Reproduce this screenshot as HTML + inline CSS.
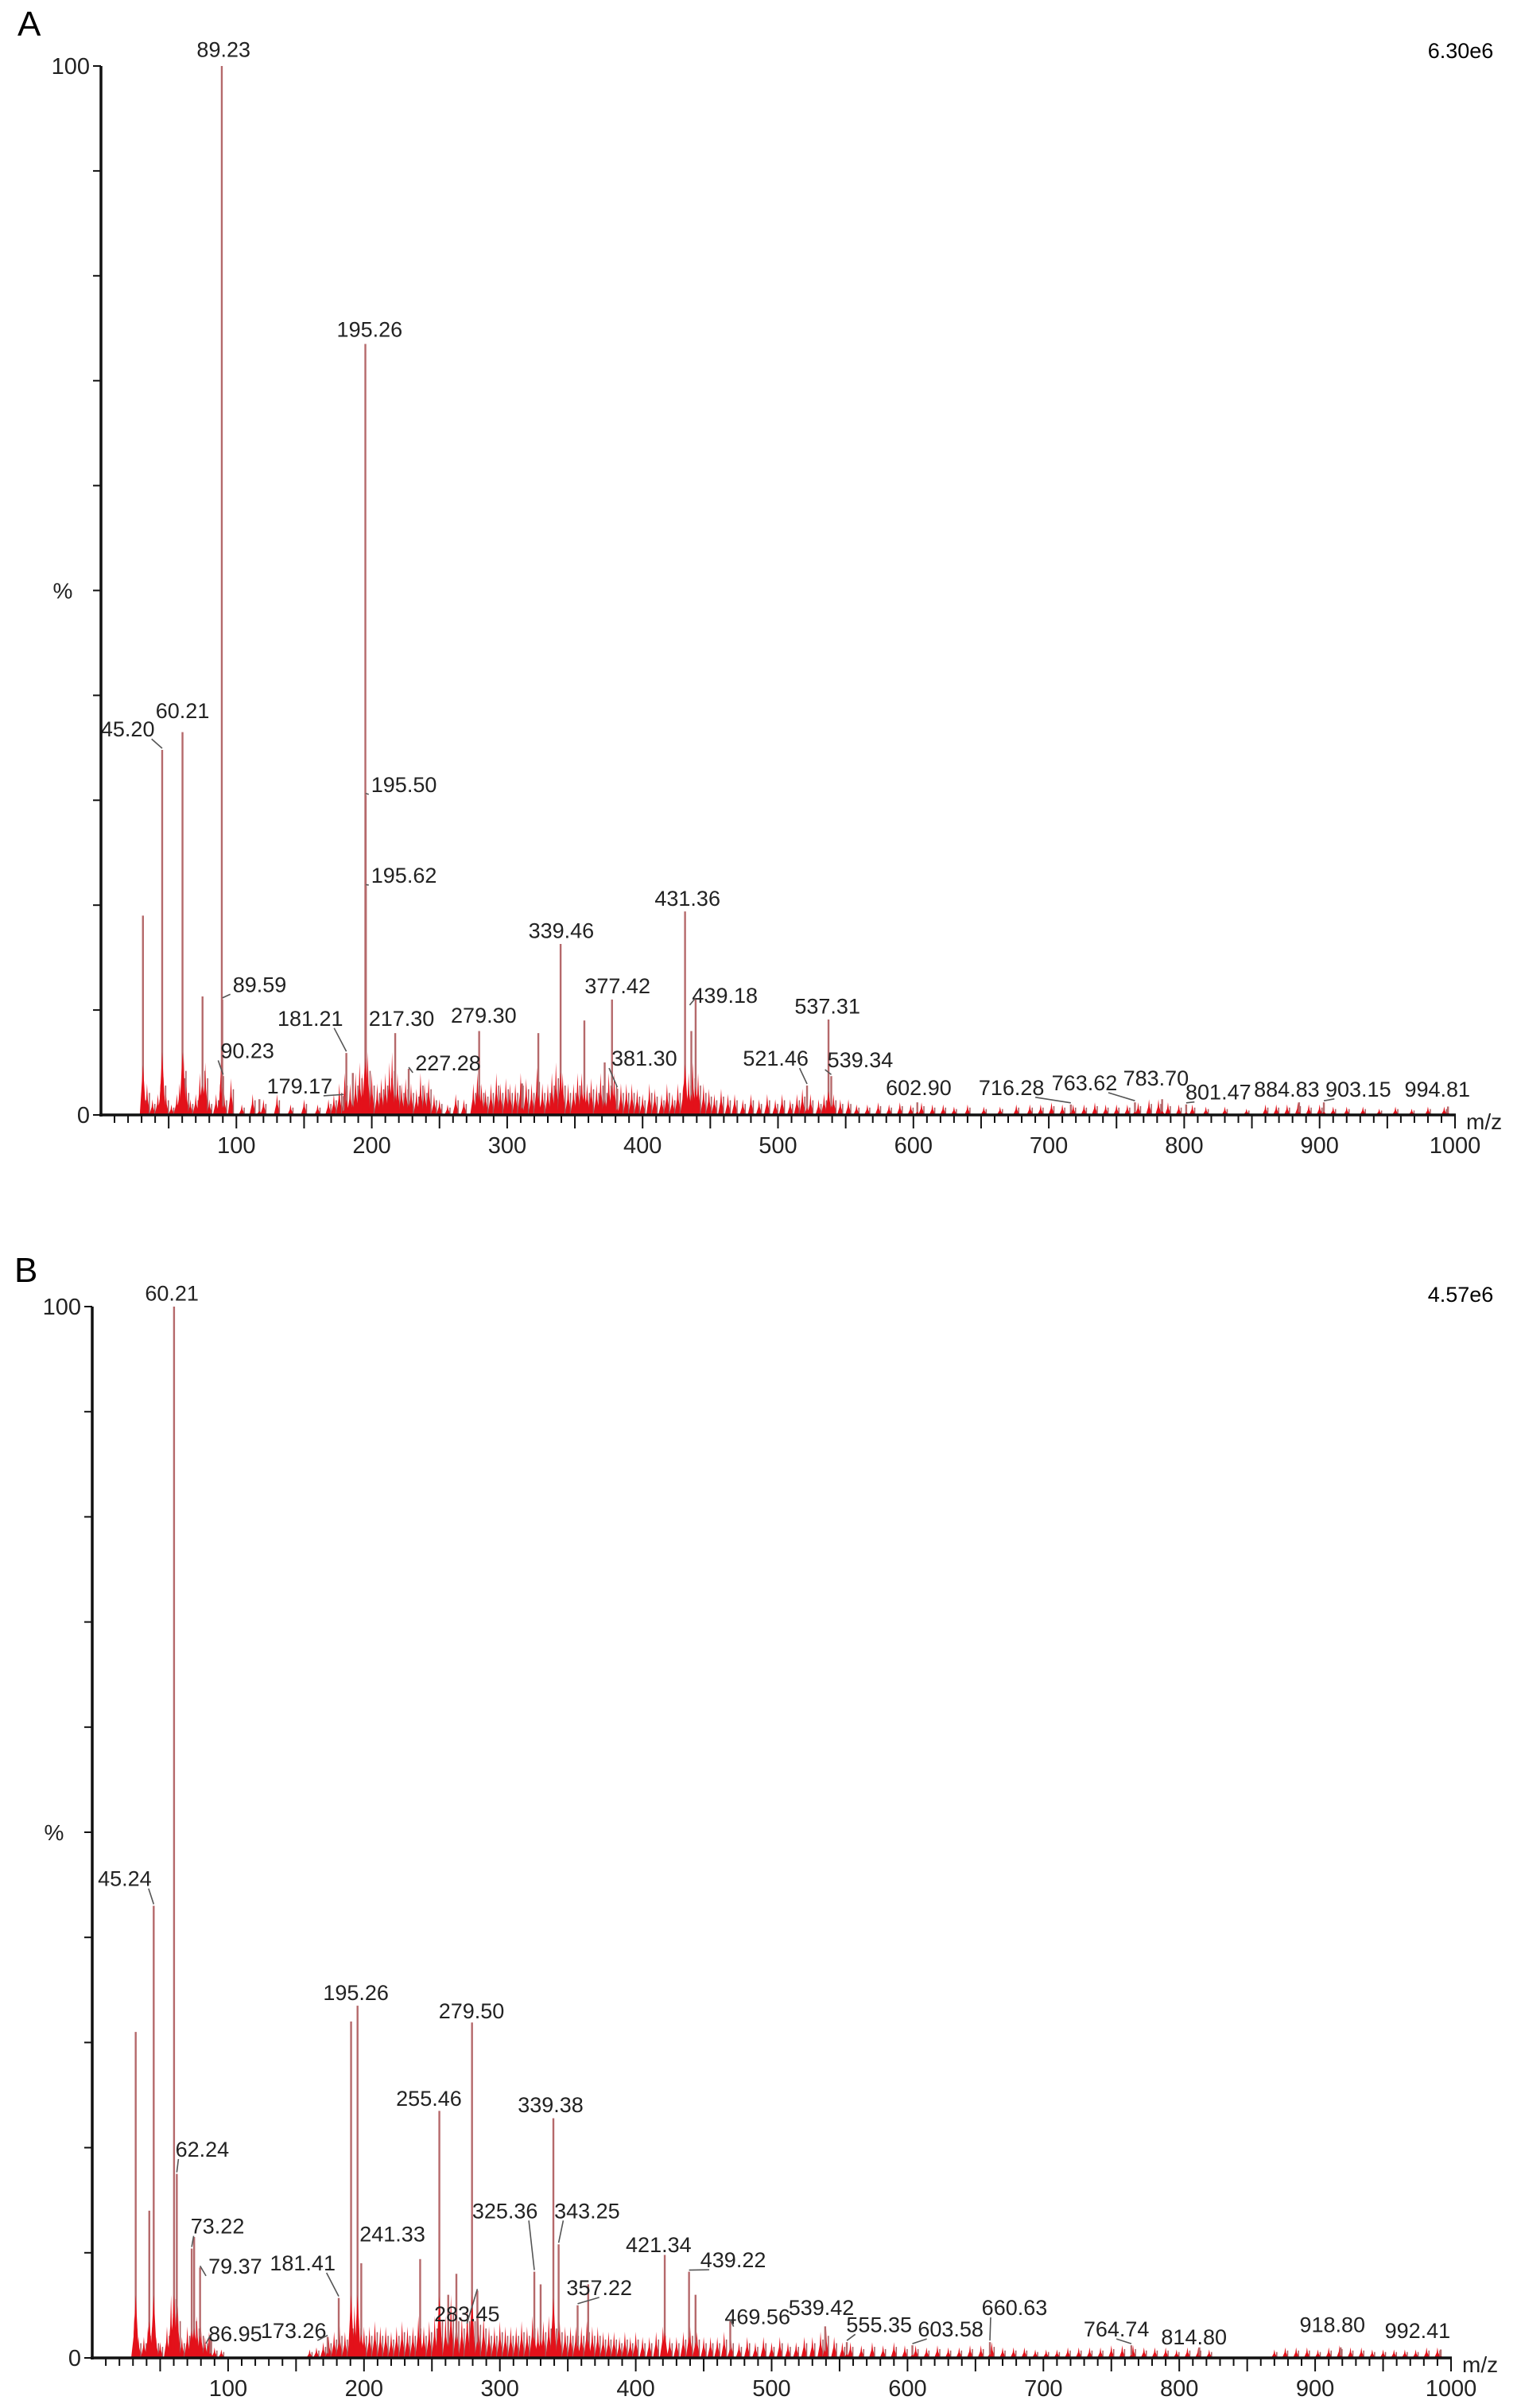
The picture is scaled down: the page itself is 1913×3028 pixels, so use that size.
<!DOCTYPE html>
<html><head><meta charset="utf-8"><style>
html,body{margin:0;padding:0;background:#fff;}
svg{display:block;font-family:"Liberation Sans",Arial,sans-serif;}
</style></head><body>
<svg id="fig" width="1913" height="3028" viewBox="0 0 1913 3028" xmlns="http://www.w3.org/2000/svg">
<text x="22" y="45" font-size="44">A</text>
<text x="18" y="1612" font-size="44">B</text>
<text x="1837" y="73" font-size="27" text-anchor="middle">6.30e6</text>
<text x="1837" y="1637" font-size="27" text-anchor="middle">4.57e6</text>
</svg>
<script>
// ---- Panel A data ----
const peaksA_mz  = [31,45.20,60.21,75,89.23,89.59,90.23,117,179.17,181.21,186,195.26,195.50,195.62,217.30,227.28,279.30,311,323,339.46,357,372,377.42,381.30,431.36,436,439.18,521.46,537.31,539.34,602.90,716.28,763.62,783.70,801.47,884.83,903.15,994.81];
const peaksA_int = [19,34.8,36.5,11.3,100,11,3.7,1.5,1.8,5.9,4,73.5,30.5,21.8,7.8,4.4,8,3,7.8,16.3,9,5,11,2.5,19.4,8,11,2.8,9.1,3.7,1.2,1,1.2,1.5,1,1.2,1.2,0.8];
const noiseA = "31:2,34:3,38:1.5,42:2,44:3,46:4,48:2,52:1,56:2,58:3,60:5,61:6,63:3,66:1.5,70:2,73:4,75:6,77:5,80:1.5,85:2,88:3,91:2,96:3.5,104:1,112:2,120:1.5,130:2,140:1,150:1.5,160:1,168:1.5,172:2,176:3,180:4,184:3,188:4,191:5,193:4,197:6,200:4,204:3,207:3.5,210:4,213:5,215:6,219:4,222:3,225:3.5,229:3,233:2.5,236:4,239:3,242:3.5,246:2,250:1.5,256:1,262:2,268:1.5,275:3,278:4,281:3,284:2.5,288:3,292:4,295:3,299:3.5,302:3,306:3,310:4,314:3.5,318:3,322:4.5,326:3,330:3,333:4,336:5,341:4,345:3,349:3,352:4,355:4,359:3,362:3.5,366:3,369:4,372:3,375:4,379:4,384:3,388:3,392:3,396:2.5,400:2,405:3,409:2.5,414:2,418:3,422:2,426:3,430:3,434:4,437:5,441:4,445:3,449:2.5,453:2,458:2.5,463:2,468:2,474:1.5,480:2,486:1.5,492:2,498:1.5,503:2,509:1.5,514:2,518:2.5,524:2,530:1.5,534:2,541:2,546:1.5,552:1.5,558:1,566:1,574:1.2,582:1,590:1.2,598:1,606:1.2,614:1,622:1,630:0.8,640:1,652:0.8,664:0.8,676:1,686:1,694:1,702:1.2,710:1,718:1,726:1,734:1.2,742:1,750:1,758:1,766:1.2,774:1.5,781:1.5,788:1.2,796:1,806:1,816:0.8,830:0.8,846:0.6,860:1,868:1,876:1,884:1.2,892:1,900:1,910:0.8,920:0.8,932:0.8,944:0.6,956:0.8,968:0.6,980:0.8,992:0.8";
const labelsA_text = ["89.23","195.26","45.20","60.21","195.50","195.62","89.59","90.23","181.21","179.17","217.30","227.28","279.30","339.46","377.42","381.30","431.36","439.18","521.46","537.31","539.34","602.90","716.28","763.62","783.70","801.47","884.83","903.15","994.81"];
// label layout (preview units): x, baseline y, anchor, leader
const labelsA_layout = [[147,37,"middle",0],[243,219,"middle",0],[84,479,"middle",1],[120,467,"middle",0],[244,515,"start",1],[244,574,"start",1],[153,645,"start",1],[145,688,"start",1],[204,667,"middle",1],[197,711,"middle",1],[264,667,"middle",0],[273,696,"start",1],[318,665,"middle",0],[369,610,"middle",0],[406,646,"middle",0],[402,693,"start",1],[452,589,"middle",0],[455,652,"start",1],[510,693,"middle",1],[544,659,"middle",0],[544,694,"start",1],[604,712,"middle",0],[665,712,"middle",1],[713,709,"middle",1],[760,706,"middle",0],[801,715,"middle",1],[846,713,"middle",0],[893,713,"middle",1],[945,713,"middle",0]];

// ---- Panel B data ----
const peaksB_mz  = [32,42,45.24,60.21,62.24,73.22,75,79.37,86.95,173.26,181.41,190.5,195.26,198,241.33,255.46,262,268,279.50,283.45,325.36,330,339.38,343.25,357.22,365,421.34,439.22,444,469.56,539.42,555.35,603.58,660.63,764.74,814.80,918.80,992.41];
const peaksB_int = [31,14,43,100,17.5,10.4,11.5,8.6,2,2,5.7,32,33.5,9,9.4,23.5,6,8,31.9,6.4,8.2,7,22.8,10.8,5,7,9.8,8.2,6,3.5,3,1.5,1.2,1.5,1.2,1,1,0.8];
const noiseB = "31:4,34:2,38:2,41:3,44:3,47:2,50:1.5,55:3,58:6,60:8,63:5,66:2,70:3,73:4,75:5,77:4,80:3,83:2,86:2.5,90:1,95:0.8,160:0.8,165:1,170:1.5,174:2,178:2.5,182:3,186:2.5,190:4,193:5,196:4,200:3,204:3,208:3.5,212:3,216:3,220:2.5,224:3,228:3.5,232:3,236:3,240:4,244:3,248:3.5,252:4,256:5,260:4,264:6,268:5,272:4,276:5,280:5,284:4.5,288:4,292:3,296:3,300:3.5,304:3,308:3,312:3,316:3.5,320:3,324:4,328:3,332:3.5,336:4,340:4,344:3.5,348:3,352:3,356:3,360:3,364:3.5,368:3,372:3,376:2.5,380:2.5,384:2.5,388:2,392:2.5,396:2,400:2.5,405:2,410:2,415:2.5,420:3,425:2,430:2,435:2.5,440:3,445:2.5,450:2,455:2,460:2,465:2.5,470:2,476:1.5,482:2,488:1.5,494:2,500:1.5,506:2,512:1.5,518:1.5,524:2,530:2,536:2.5,540:3,546:2,552:1.5,558:1.5,566:1.2,574:1.5,582:1.2,590:1.5,598:1.2,606:1.2,614:1,622:1.2,630:1,638:1,646:1.2,654:1.2,662:1.5,670:1,678:1,686:1,694:0.8,702:0.8,710:0.8,718:1,726:1,734:1,742:1,750:1.2,758:1.2,766:1.2,774:1,782:1,790:1,798:0.8,806:1,814:1,822:0.8,870:0.8,878:1,886:1,894:1,902:0.8,910:1,918:1.2,926:1,934:1,942:0.8,950:0.8,958:0.8,966:0.8,974:0.8,982:1,990:1";
const labelsB_text = ["60.21","45.24","62.24","73.22","79.37","86.95","173.26","181.41","195.26","279.50","255.46","241.33","283.45","325.36","343.25","339.38","357.22","421.34","439.22","469.56","539.42","555.35","603.58","660.63","764.74","814.80","918.80","992.41"];
const labelsB_layout = [[113,846,"middle",0],[82,1227,"middle",1],[133,1403,"middle",1],[143,1453,"middle",1],[137,1479,"start",1],[137,1523,"start",1],[193,1521,"middle",1],[199,1477,"middle",1],[234,1301,"middle",0],[310,1313,"middle",0],[282,1370,"middle",0],[258,1458,"middle",0],[307,1510,"middle",1],[332,1443,"middle",1],[386,1443,"middle",1],[362,1374,"middle",0],[394,1493,"middle",1],[433,1465,"middle",0],[482,1475,"middle",1],[498,1512,"middle",1],[540,1506,"middle",0],[578,1517,"middle",1],[625,1520,"middle",1],[667,1506,"middle",1],[734,1520,"middle",1],[785,1525,"middle",0],[876,1517,"middle",0],[932,1521,"middle",0]];

const yTicks = [0,10,20,30,40,50,60,70,80,90,100];
const xLabels = [100,200,300,400,500,600,700,800,900,1000];

const NS = "http://www.w3.org/2000/svg";
const svg = document.getElementById("fig");
function mk(tag, attrs, parent){const e=document.createElementNS(NS,tag);for(const k in attrs)e.setAttribute(k,attrs[k]);(parent||svg).appendChild(e);return e;}

function drawPanel(p){
  const g = mk("g",{});
  
  
  const X = m => p.ox + m*p.sx;
  const Y = v => p.y0 - v*(p.y0-p.y100)/100;
  const PX = px => px*1.913;
  const PY = py => p.y100 + (py-p.py100)*p.pf;
  const noise = p.noise.split(",").map(s=>s.split(":").map(Number));
  noise.forEach(([m,h])=>{
    const poly = mk("polygon",{points:`${X(m)-4},${p.y0} ${X(m)-1},${Y(h*0.5)} ${X(m)},${Y(h)} ${X(m)+1},${Y(h*0.5)} ${X(m)+4},${p.y0}`,fill:"#e3111a"},g);
    
    
    const nl = mk("line",{x1:X(m)+3,x2:X(m)+3,y1:p.y0,y2:Y(h*0.7),stroke:"#a85a5e","stroke-width":1.5},g);
    
    
  });
  p.mz.forEach((m,i)=>{
    const l = mk("line",{x1:X(m),x2:X(m),y1:p.y0,y2:Y(p.int[i]),stroke:"#b5696b","stroke-width":2.4},g);
    
    
    const base = Math.min(p.int[i]*0.25,6);
    const r = mk("polygon",{points:`${X(m)-4},${p.y0} ${X(m)},${Y(base)} ${X(m)+4},${p.y0}`,fill:"#e3111a"},g);
    
    
  });
  p.labels.forEach((t,i)=>{
    const [lx,ly,anc,lead] = p.layout[i];
    const m = parseFloat(t);
    let idx = p.mz.findIndex(v=>Math.abs(v-m)<0.001);
    const h = idx>=0 ? p.int[idx] : 1;
    const tx = PX(lx), ty = PY(ly);
    const txt = mk("text",{x:tx,y:ty,"font-size":27,"text-anchor":anc,fill:"#222"},g);
    txt.textContent = t;
    
    
    if(lead){
      const px = X(m), py = Y(h)-2;
      let ex = anc==="start" ? tx-3 : (px>tx ? tx+30 : tx-30);
      let ey = ty+3;
      if(anc==="middle" && Math.abs(px-tx)<30) ex = tx;
      const ll = mk("line",{x1:px,y1:py,x2:ex,y2:ey,stroke:"#555","stroke-width":1.6},g);
      
      
    }
  });
  const ya = mk("line",{x1:p.ox,x2:p.ox,y1:p.y100,y2:p.y0+2,stroke:"#111","stroke-width":3.5},g);
  
  
  const xa = mk("line",{x1:p.ox-2,x2:X(1000)+1,y1:p.y0,y2:p.y0,stroke:"#111","stroke-width":3.5},g);
  
  
  yTicks.forEach(v=>{
    const t = mk("line",{x1:p.ox-10,x2:p.ox,y1:Y(v),y2:Y(v),stroke:"#111","stroke-width":2},g);
    
    
  });
  [[100,"100"],[0,"0"]].forEach(([v,s])=>{
    const t = mk("text",{x:p.ox-14,y:Y(v)+10,"font-size":29,"text-anchor":"end",fill:"#222"},g);
    t.textContent = s;
    
    
  });
  const pc = mk("text",{x:p.ox-48,y:Y(50)+10,"font-size":28,"text-anchor":"middle",fill:"#222"},g);
  pc.textContent = "%";
  
  
  for(let m=10;m<=1000;m+=10){
    const major = m%50===0;
    const t = mk("line",{x1:X(m),x2:X(m),y1:p.y0,y2:p.y0+(major?17:10),stroke:"#111","stroke-width":2},g);
    
    
  }
  xLabels.forEach(v=>{
    const t = mk("text",{x:X(v),y:p.y0+48,"font-size":29,"text-anchor":"middle",fill:"#222"},g);
    t.textContent = v;
    
    
  });
  const mzl = mk("text",{x:X(1000)+14,y:p.y0+18,"font-size":28,fill:"#222"},g);
  mzl.textContent = "m/z";
  
  
}
drawPanel({name:"panel-a-spectrum",ox:127,sx:1.703,y0:1402,y100:83,py100:43,pf:1.934,mz:peaksA_mz,int:peaksA_int,noise:noiseA,labels:labelsA_text,layout:labelsA_layout});
drawPanel({name:"panel-b-spectrum",ox:116,sx:1.709,y0:2965,y100:1643,py100:850,pf:1.933,mz:peaksB_mz,int:peaksB_int,noise:noiseB,labels:labelsB_text,layout:labelsB_layout});
</script>
</body></html>
